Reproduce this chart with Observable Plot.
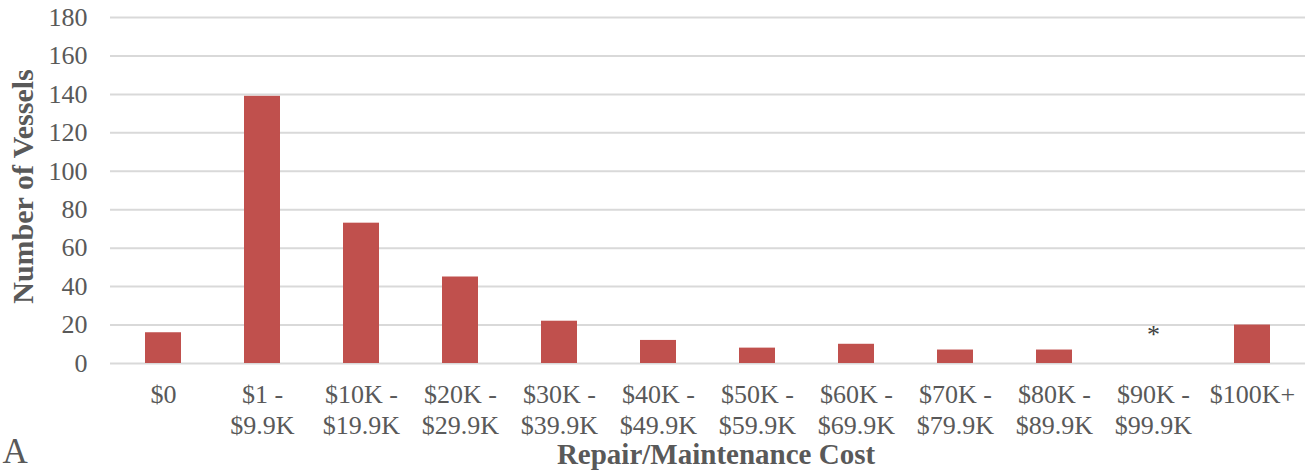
<!DOCTYPE html>
<html><head><meta charset="utf-8">
<script src="https://cdn.jsdelivr.net/npm/d3@7"></script>
<script src="https://cdn.jsdelivr.net/npm/@observablehq/plot@0.6"></script>
<style>
body{margin:0;background:#fff;}
#chart{width:1315px;height:471px;}
</style></head><body><div id="chart"></div>
<script>
const categories = ["$0","$1 - $9.9K","$10K - $19.9K","$20K - $29.9K","$30K - $39.9K","$40K - $49.9K","$50K - $59.9K","$60K - $69.9K","$70K - $79.9K","$80K - $89.9K","$90K - $99.9K","$100K+"];
const vessels = [16,139,73,45,22,12,8,10,7,7,0,20];
const yTicks = [0,20,40,60,80,100,120,140,160,180];
const noteCategories = ["$90K - $99.9K"];
const noteLabels = ["*"];
const xTitle = "Repair/Maintenance Cost";
const yTitle = "Number of Vessels";
const panelLetter = "A";

const data = categories.map((c, i) => ({category: c, vessels: vessels[i]}));
const notes = noteCategories.map((c, i) => ({category: c, value: 0, label: noteLabels[i]}));

const barColor = "#C0504D";
const textColor = "#595959";
const gridColor = "#d9d9d9";

const chart = Plot.plot({
  width: 1315,
  height: 471,
  marginTop: 17,
  marginBottom: 108,
  marginLeft: 110,
  marginRight: 10,
  style: {fontFamily: "'Liberation Serif', 'Times New Roman', serif", fontSize: "26px", color: textColor, background: "#fff"},
  x: {domain: categories, paddingInner: 0.64, paddingOuter: 0.32},
  y: {domain: [0, 180]},
  marks: [
    Plot.gridY(yTicks, {stroke: gridColor, strokeOpacity: 1, strokeWidth: 2}),
    Plot.barY(data, {x: "category", y: "vessels", fill: barColor}),
    Plot.axisY({ticks: yTicks, tickSize: 0, tickPadding: 23, label: null, fontSize: 26, fill: textColor}),
    Plot.axisX({tickSize: 0, tickPadding: 18, label: null, fontSize: 26, lineHeight: 1.19, fill: textColor,
      tickFormat: d => d.replace(" - ", " -\n")}),
    Plot.text(notes, {x: "category", y: "value", text: "label", fontSize: 26, fill: "#404040", lineAnchor: "bottom", dy: -21}),
    Plot.text([xTitle], {frameAnchor: "bottom", text: d => d, fontWeight: "bold", fontSize: 29, fill: textColor, lineAnchor: "bottom", dx: 8, dy: 100}),
    Plot.text([yTitle], {frameAnchor: "left", text: d => d, rotate: -90, textAnchor: "middle", fontWeight: "bold", fontSize: 30, fill: textColor, lineAnchor: "middle", dx: -87, dy: -4}),
    Plot.text([panelLetter], {frameAnchor: "bottom-left", text: d => d, fontSize: 35, fill: textColor, textAnchor: "start", lineAnchor: "bottom", dx: -108, dy: 99})
  ]
});
document.getElementById("chart").appendChild(chart);
</script>
</body></html>
